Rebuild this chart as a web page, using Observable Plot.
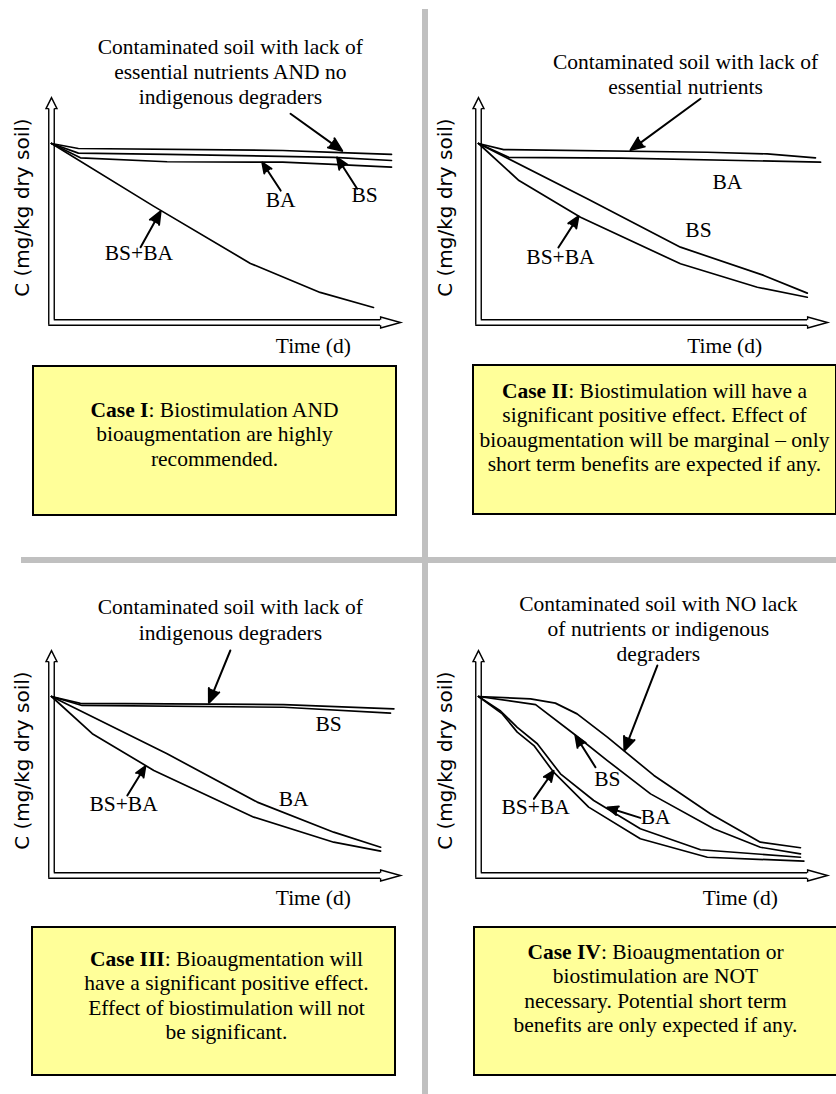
<!DOCTYPE html>
<html>
<head>
<meta charset="utf-8">
<script src="https://cdn.jsdelivr.net/npm/d3@7"></script>
<script src="https://cdn.jsdelivr.net/npm/@observablehq/plot@0.6"></script>
<style>
  html, body { margin: 0; padding: 0; background: #fff; }
  #page { position: relative; width: 836px; height: 1094px; overflow: hidden; background: #fff; }
  .panel { position: absolute; }
  .box { position: absolute; box-sizing: border-box; width: 365px; border: 2px solid #000; background: #ffff99;
         font-family: "Liberation Serif", "Times New Roman", serif; font-size: 21.5px; line-height: 24.5px;
         text-align: center; white-space: nowrap; color: #000; }
  .divider { position: absolute; background: #c0c0c0; }
</style>
</head>
<body>
<div id="page">
  <div class="divider" style="left:422px; top:9px; width:6px; height:1085px;"></div>
  <div class="divider" style="left:21px; top:557px; width:815px; height:6px;"></div>
  <div class="panel" id="p1" style="left:0px; top:0px;"></div>
  <div class="panel" id="p2" style="left:427px; top:0px;"></div>
  <div class="panel" id="p3" style="left:0px; top:553px;"></div>
  <div class="panel" id="p4" style="left:427px; top:553px;"></div>
  <div class="box" style="left:32px; top:365px; height:151px; padding-top:30.75px;"><b>Case I</b>: Biostimulation AND<br>bioaugmentation are highly<br>recommended.</div>
  <div class="box" style="left:472px; top:364px; height:151px; padding-top:12.75px;"><b>Case II</b>: Biostimulation will have a<br>significant positive effect. Effect of<br>bioaugmentation will be marginal – only<br>short term benefits are expected if any.</div>
  <div class="box" style="left:31px; top:926px; height:150px; padding-top:18.75px; padding-left:26px;"><b>Case III</b>: Bioaugmentation will<br>have a significant positive effect.<br>Effect of biostimulation will not<br>be significant.</div>
  <div class="box" style="left:473px; top:926px; height:150px; padding-top:11.75px;"><b>Case IV</b>: Bioaugmentation or<br>biostimulation are NOT<br>necessary. Potential short term<br>benefits are only expected if any.</div>
</div>
<script>
// ---- Data: [time (relative units 0-10), concentration (% of initial)] ----
// Case I
const caseI_untreated = [[0,100],[0.79,97.2],[6.8,96.1],[8.3,95.0],[10,93.9]];
const caseI_BS        = [[0,100],[0.79,94.6],[3.4,93.9],[8.3,92.3],[10,90.5]];
const caseI_BA        = [[0,100],[0.85,92.0],[3.4,89.8],[6.8,89.6],[8.3,88.3],[10,86.8]];
const caseI_BSBA      = [[0,100],[3.0,65],[5.85,33],[7.9,16.8],[9.47,8.4]];
// Case II
const caseII_untreated = [[0,100],[0.74,96.6],[6.73,95.1],[8.49,94.2],[9.91,92.0]];
const caseII_BA        = [[0,100],[0.89,92.3],[4.2,91.8],[10.06,89.6]];
const caseII_BS        = [[0,100],[3.2,69.1],[5.94,42.1],[8.39,26.3],[9.67,16.4]];
const caseII_BSBA      = [[0,100],[1.19,79.3],[3.0,58.8],[5.94,32.8],[8.2,19.7],[9.67,14.1]];
// Case III
const caseIII_untreated = [[0,100],[0.85,96.2],[6.83,95.5],[10.07,93.1]];
const caseIII_BS        = [[0,100],[0.9,95],[6.83,94.0],[9.97,90.7]];
const caseIII_BA        = [[0,100],[3.4,68],[6.05,41],[8.3,24.2],[9.68,15.8]];
const caseIII_BSBA      = [[0,100],[1.2,79.2],[3.01,58.7],[5.95,32.6],[8.3,18.6],[9.68,13.6]];
// Case IV
const caseIV_untreated = [[0,100],[1.53,98.7],[2.26,96.3],[2.9,90.3],[3.79,77.3],[5.16,55.9],[6.82,34.5],[8.29,18.6],[9.47,15.5]];
const caseIV_BS        = [[0,100],[1.68,95.5],[2.8,79.2],[3.79,64.2],[5.06,45.6],[6.92,26.1],[8.29,15.8],[9.47,12.1]];
const caseIV_BA        = [[0,100],[0.65,91.9],[1.14,82.8],[1.73,73.6],[2.41,56.8],[3.39,41.9],[4.76,26.1],[6.53,14.4],[9.47,10.2]];
const caseIV_BSBA      = [[0,100],[0.7,90.3],[1.14,80.1],[1.63,72.6],[2.21,57.7],[3.24,38.2],[4.76,20.5],[6.73,10.2],[9.57,8.0]];

// ---- Annotation texts ----
const titles = [
  "Contaminated soil with lack of\nessential nutrients AND no\nindigenous degraders",
  "Contaminated soil with lack of\nessential nutrients",
  "Contaminated soil with lack of\nindigenous degraders",
  "Contaminated soil with NO lack\nof nutrients or indigenous\ndegraders"
];
const yAxisLabel = "C (mg/kg dry soil)";
const xAxisLabel = "Time (d)";

// ---- Annotation anchors (data units: t, C) ----
const titleAnchors = [{t:5.26,c:140.6},{t:6.09,c:139.3},{t:5.26,c:143.4},{t:5.29,c:138.4}];
const yLabelAnchors = [{t:-0.85,c:64.2},{t:-0.97,c:64.2},{t:-0.85,c:64.2},{t:-0.97,c:64.2}];
const xLabelAnchors = [{t:7.7,c:-13.4},{t:7.24,c:-13.4},{t:7.7,c:-12.6},{t:7.7,c:-12.6}];
const arrowsI   = [{t1:7.03,c1:116.6,t2:8.55,c2:95.9},{t1:8.99,c1:74.7,t2:8.4,c2:92.2},{t1:6.74,c1:73.7,t2:6.2,c2:89.4},{t1:2.62,c1:42.1,t2:3.21,c2:62.2}];
const arrowsII  = [{t1:6.53,c1:125,t2:4.47,c2:96.3},{t1:2.35,c1:41.9,t2:2.94,c2:59.3}];
const arrowsIII = [{t1:5.26,c1:125.7,t2:4.63,c2:96.5},{t1:2.23,c1:44.7,t2:2.76,c2:61}];
const arrowsIV  = [{t1:5.26,c1:117.3,t2:4.29,c2:69.8},{t1:3.44,c1:60.5,t2:2.85,c2:78.2},{t1:4.76,c1:32.2,t2:3.79,c2:38},{t1:1.63,c1:42.8,t2:2.21,c2:58.5}];
const labelsI   = [{t:6.74,c:68.2,text:"BA"},{t:9.21,c:70.9,text:"BS"},{t:2.57,c:38.9,text:"BS+BA"}];
const labelsII  = [{t:7.32,c:78.2,text:"BA"},{t:6.47,c:51.4,text:"BS"},{t:2.41,c:36.3,text:"BS+BA"}];
const labelsIII = [{t:8.15,c:84.7,text:"BS"},{t:7.12,c:42.8,text:"BA"},{t:2.12,c:40,text:"BS+BA"}];
const labelsIV  = [{t:3.79,c:54,text:"BS"},{t:5.21,c:32.6,text:"BA"},{t:1.68,c:38.2,text:"BS+BA"}];

// axis extents (data units)
const AXIS_C_TOP = 119.5;
const AXIS_T_END = 9.68;

const SERIF = "Liberation Serif, Times New Roman, serif";
const SANS = "DejaVu Sans, Verdana, sans-serif";

// hollow block-arrow heads for the axes
const headUp = {draw(ctx) { ctx.moveTo(-2.75, 0); ctx.lineTo(-5.5, 0); ctx.lineTo(0, -11); ctx.lineTo(5.5, 0); ctx.lineTo(2.75, 0); }};
const headRight = {draw(ctx) { ctx.moveTo(0, -2.75); ctx.lineTo(0, -5.5); ctx.lineTo(20, 0); ctx.lineTo(0, 5.5); ctx.lineTo(0, 2.75); }};

function drawPanel(i, series, arrows, labels) {
  const axisStyle = {stroke: "black", strokeWidth: 1.4};
  return Plot.plot({
    width: 409, height: 360,
    marginLeft: 51, marginRight: 18, marginTop: 143, marginBottom: 38,
    x: {domain: [0, 10], axis: null},
    y: {domain: [0, 100], axis: null},
    style: {background: "transparent", overflow: "visible"},
    marks: [
      Plot.ruleX([0], {y1: AXIS_C_TOP, y2: 0, dx: -2.75, insetBottom: -2.75, ...axisStyle}),
      Plot.ruleX([0], {y1: AXIS_C_TOP, y2: 0, dx: 2.75, insetBottom: 2.75, ...axisStyle}),
      Plot.ruleY([0], {x1: 0, x2: AXIS_T_END, dy: 2.75, insetLeft: -2.75, ...axisStyle}),
      Plot.ruleY([0], {x1: 0, x2: AXIS_T_END, dy: -2.75, insetLeft: 2.75, ...axisStyle}),
      Plot.dot([[0, AXIS_C_TOP]], {x: d => d[0], y: d => d[1], symbol: headUp, fill: "white", ...axisStyle}),
      Plot.dot([[AXIS_T_END, 0]], {x: d => d[0], y: d => d[1], symbol: headRight, fill: "white", ...axisStyle}),
      ...series.map(s => Plot.line(s, {x: d => d[0], y: d => d[1], stroke: "black", strokeWidth: 1.7})),
      Plot.arrow(arrows, {x1: "t1", y1: "c1", x2: "t2", y2: "c2", stroke: "black", fill: "black",
                          strokeWidth: 2, headLength: 11, headAngle: 45}),
      Plot.text(labels, {x: "t", y: "c", text: "text", fontFamily: SERIF, fontSize: 21.5, fill: "black"}),
      Plot.text([titleAnchors[i]], {x: "t", y: "c", text: () => titles[i], fontFamily: SERIF, fontSize: 21.5, lineHeight: 1.18, fill: "black"}),
      Plot.text([xLabelAnchors[i]], {x: "t", y: "c", text: () => xAxisLabel, fontFamily: SERIF, fontSize: 21.5, fill: "black"}),
      Plot.text([yLabelAnchors[i]], {x: "t", y: "c", text: () => yAxisLabel, rotate: -90, fontFamily: SANS, fontSize: 20, fill: "black"})
    ]
  });
}

document.getElementById("p1").append(drawPanel(0, [caseI_untreated, caseI_BS, caseI_BA, caseI_BSBA], arrowsI, labelsI));
document.getElementById("p2").append(drawPanel(1, [caseII_untreated, caseII_BA, caseII_BS, caseII_BSBA], arrowsII, labelsII));
document.getElementById("p3").append(drawPanel(2, [caseIII_untreated, caseIII_BS, caseIII_BA, caseIII_BSBA], arrowsIII, labelsIII));
document.getElementById("p4").append(drawPanel(3, [caseIV_untreated, caseIV_BS, caseIV_BA, caseIV_BSBA], arrowsIV, labelsIV));
</script>
</body>
</html>
